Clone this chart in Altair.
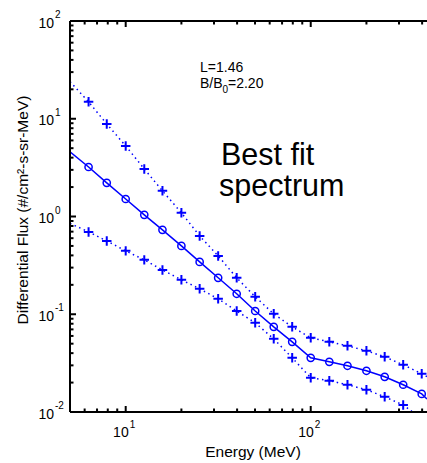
import altair as alt
import pandas as pd

# Energy grid (MeV) and differential flux, #/cm^2-s-sr-MeV
energy = [6.3, 7.9, 10, 12.6, 15.8, 20, 25.1, 31.6, 39.8, 50.1, 63.1, 79.4,
          100, 126, 158, 200, 251, 316, 398]
best_fit = [3.21, 2.21, 1.51, 1.04, 0.73, 0.50, 0.343, 0.236, 0.162, 0.108,
            0.0743, 0.0522, 0.0358, 0.0326, 0.0297, 0.0264, 0.0229, 0.0190, 0.0153]
upper = [14.9, 8.85, 5.27, 3.07, 1.83, 1.09, 0.633, 0.395, 0.236, 0.151,
         0.101, 0.0743, 0.0574, 0.0522, 0.0475, 0.0423, 0.0367, 0.0304, 0.0246]
lower = [0.696, 0.562, 0.445, 0.360, 0.284, 0.225, 0.182, 0.144, 0.108, 0.0817,
         0.0560, 0.0358, 0.0224, 0.0209, 0.0190, 0.0169, 0.0143, 0.0118, 0.0085]

# curve values where each curve meets the frame
edge_energy = [5, 425]
best_fit_edge = [4.6, 0.0136]
upper_edge = [24.0, 0.0230]
lower_edge = [0.85, 0.0080]

# tick positions and tick-label exponents
x_major = [10, 100]
x_exp = ["1", "2"]
x_minor = [6, 7, 8, 9, 20, 30, 40, 50, 60, 70, 80, 90, 200, 300, 400]
y_major = [0.01, 0.1, 1, 10, 100]
y_exp = ["-2", "-1", "0", "1", "2"]
y_minor = [m * d for d in [0.01, 0.1, 1, 10] for m in range(2, 10)]

W, H = 357, 391
BLUE = "#0000ff"
FONT = "Liberation Sans"

xs = alt.Scale(type="log", domain=[5, 425], nice=False)
ys = alt.Scale(type="log", domain=[0.01, 100], nice=False)


def curve(name, xs_vals, ys_vals):
    return pd.DataFrame({"E": xs_vals, "flux": ys_vals, "curve": name})


lines_df = pd.concat([
    curve("best", [edge_energy[0]] + energy + [edge_energy[1]],
          [best_fit_edge[0]] + best_fit + [best_fit_edge[1]]),
    curve("upper", [edge_energy[0]] + energy + [edge_energy[1]],
          [upper_edge[0]] + upper + [upper_edge[1]]),
    curve("lower", [edge_energy[0]] + energy + [edge_energy[1]],
          [lower_edge[0]] + lower + [lower_edge[1]]),
])
best_df = curve("best", energy, best_fit)
bounds_df = pd.concat([curve("upper", energy, upper), curve("lower", energy, lower)])

X = alt.X("E:Q", scale=xs, axis=None)
Y = alt.Y("flux:Q", scale=ys, axis=None)

bound_lines = alt.Chart(lines_df).transform_filter(
    alt.datum.curve != "best"
).mark_line(color=BLUE, strokeWidth=1.5, strokeDash=[1.5, 3.5], clip=True).encode(
    x=X, y=Y, detail="curve:N"
)
best_line = alt.Chart(lines_df).transform_filter(
    alt.datum.curve == "best"
).mark_line(color=BLUE, strokeWidth=1.5, clip=True).encode(x=X, y=Y)

crosses = alt.Chart(bounds_df).mark_point(
    shape="M-1,0L1,0M0,-1L0,1", size=90, color=BLUE, filled=False,
    strokeWidth=2, opacity=1, clip=True
).encode(x=X, y=Y)
circles = alt.Chart(best_df).mark_point(
    shape="circle", size=52, color=BLUE, filled=False, strokeWidth=1.5,
    opacity=1, clip=True
).encode(x=X, y=Y)

one = pd.DataFrame({"a": [0]})
frame = [
    alt.Chart(one).mark_rule(color="black", strokeWidth=2).encode(
        x=alt.value(0), x2=alt.value(W), y=alt.value(H)),
    alt.Chart(one).mark_rule(color="black", strokeWidth=2).encode(
        x=alt.value(0), x2=alt.value(W), y=alt.value(0)),
    alt.Chart(one).mark_rule(color="black", strokeWidth=2).encode(
        x=alt.value(0), y=alt.value(0), y2=alt.value(H)),
]


def x_ticks(vals, length):
    d = pd.DataFrame({"t": vals})
    tx = alt.X("t:Q", scale=xs, axis=None)
    return [
        alt.Chart(d).mark_rule(color="black", strokeWidth=2).encode(
            x=tx, y=alt.value(H), y2=alt.value(H - length)),
        alt.Chart(d).mark_rule(color="black", strokeWidth=2).encode(
            x=tx, y=alt.value(0), y2=alt.value(length)),
    ]


def y_ticks(vals, length):
    d = pd.DataFrame({"t": vals})
    return [alt.Chart(d).mark_rule(color="black", strokeWidth=2).encode(
        y=alt.Y("t:Q", scale=ys, axis=None), x=alt.value(0), x2=alt.value(length))]


ticks = x_ticks(x_major, 6) + x_ticks(x_minor, 3.5) + y_ticks(y_major, 6) + y_ticks(y_minor, 3.5)

xlab_df = pd.DataFrame({"t": x_major, "base": "10", "exp": x_exp})
ylab_df = pd.DataFrame({"t": y_major, "base": "10", "exp": y_exp})
TX = alt.X("t:Q", scale=xs, axis=None)
TY = alt.Y("t:Q", scale=ys, axis=None)

labels = [
    alt.Chart(xlab_df).mark_text(align="right", baseline="alphabetic", dx=3,
                                 fontSize=14, font=FONT, color="black").encode(
        x=TX, y=alt.value(H + 25), text="base:N"),
    alt.Chart(xlab_df).mark_text(align="left", baseline="alphabetic", dx=4,
                                 fontSize=10, font=FONT, color="black").encode(
        x=TX, y=alt.value(H + 16), text="exp:N"),
    alt.Chart(ylab_df).mark_text(align="right", baseline="alphabetic", dy=6.5,
                                 fontSize=14, font=FONT, color="black").encode(
        x=alt.value(-16), y=TY, text="base:N"),
    alt.Chart(ylab_df).mark_text(align="left", baseline="alphabetic", dy=-3,
                                 fontSize=10, font=FONT, color="black").encode(
        x=alt.value(-15), y=TY, text="exp:N"),
]


def note(text, x, y, size, angle=0, align="left"):
    return alt.Chart(one).mark_text(
        text=text, align=align, baseline="alphabetic", fontSize=size,
        font=FONT, color="black", angle=angle
    ).encode(x=alt.value(x), y=alt.value(y))


texts = [
    note("Energy (MeV)", 183, H + 45, 15.5, align="center"),
    note("Differential Flux (#/cm\u00b2-s-sr-MeV)", -42, 189, 15.5, angle=270, align="center"),
    note("L=1.46", 130, 50.5, 14),
    note("B/B", 130, 67, 14),
    note("0", 152.6, 72, 10),
    note("=2.20", 158, 67, 14),
    note("Best fit", 151, 144, 30.5),
    note("spectrum", 149, 175, 30.5),
]

chart = alt.layer(
    *ticks, bound_lines, best_line, crosses, circles, *frame, *labels, *texts
).properties(
    width=W, height=H, autosize="none",
    padding={"left": 70, "top": 21, "right": 0, "bottom": 51},
    background="white",
).configure_view(stroke="transparent")

chart.save("out.html", embed_options={"renderer": "svg", "actions": False})
